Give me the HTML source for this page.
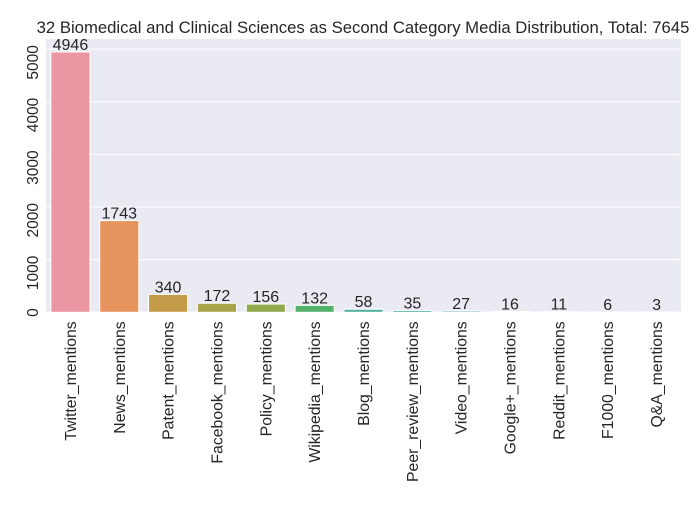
<!DOCTYPE html>
<html><head><meta charset="utf-8"><style>
body{margin:0;background:#fff;font-family:"Liberation Sans","DejaVu Sans",sans-serif;}
</style></head><body>
<svg id="chart" width="700" height="500" xmlns="http://www.w3.org/2000/svg"></svg>
<script>
const categories=["Twitter_mentions","News_mentions","Patent_mentions","Facebook_mentions","Policy_mentions","Wikipedia_mentions","Blog_mentions","Peer_review_mentions","Video_mentions","Google+_mentions","Reddit_mentions","F1000_mentions","Q&A_mentions"];
const values=[4946,1743,340,172,156,132,58,35,27,16,11,6,3];
const yTicks=[0,1000,2000,3000,4000,5000];
const colors=["#ea96a3","#e6955f","#c39b48","#a9a34a","#8fa94c","#52b16b","#50b09b","#52adab","#55abbb","#5ba8d0","#8ea0e8","#c493e8","#e68ed2"];
const svg=document.getElementById('chart');
const NS="http://www.w3.org/2000/svg";
const L=46,R=681,T=39,B=312.3;
const ymax=Math.max(...values)*1.05;
const y=v=>B-(v/ymax)*(B-T);
const slot=(R-L)/categories.length;
const x=i=>L+slot*i+slot/2;
function mk(tag,attrs,parent){const e=document.createElementNS(NS,tag);for(const k in attrs)e.setAttribute(k,attrs[k]);(parent||svg).appendChild(e);return e;}
const bg=mk('rect',{x:L,y:T,width:R-L,height:B-T,fill:'#eaeaf2'});


yTicks.forEach(t=>{
  const g=mk('line',{x1:L,x2:R,y1:y(t),y2:y(t),stroke:'#fff','stroke-width':1});
  
  
  const tx=mk('text',{x:0,y:0,'font-size':15.5,fill:'#262626','text-anchor':'end',transform:`translate(${L-8},${y(t)-4}) rotate(-90)`});
  tx.textContent=t;
  
  
});
categories.forEach((c,i)=>{
  const w=slot*0.8;
  const r=mk('rect',{x:x(i)-w/2,y:y(values[i]),width:w,height:B-y(values[i]),fill:colors[i],stroke:'#fff','stroke-width':1});
  
  
  const v=mk('text',{x:x(i),y:y(values[i])-2,'font-size':16,fill:'#262626','text-anchor':'middle'});
  v.textContent=values[i];
  
  
  const lb=mk('text',{x:0,y:0,'font-size':15.8,fill:'#262626','text-anchor':'end',transform:`translate(${x(i)+5.5},${B+9}) rotate(-90)`});
  lb.textContent=c;
  
  
});
const title=mk('text',{x:363,y:33,'font-size':16.7,fill:'#262626','text-anchor':'middle'});
title.textContent="32 Biomedical and Clinical Sciences as Second Category Media Distribution, Total: 7645";


</script>
</body></html>
